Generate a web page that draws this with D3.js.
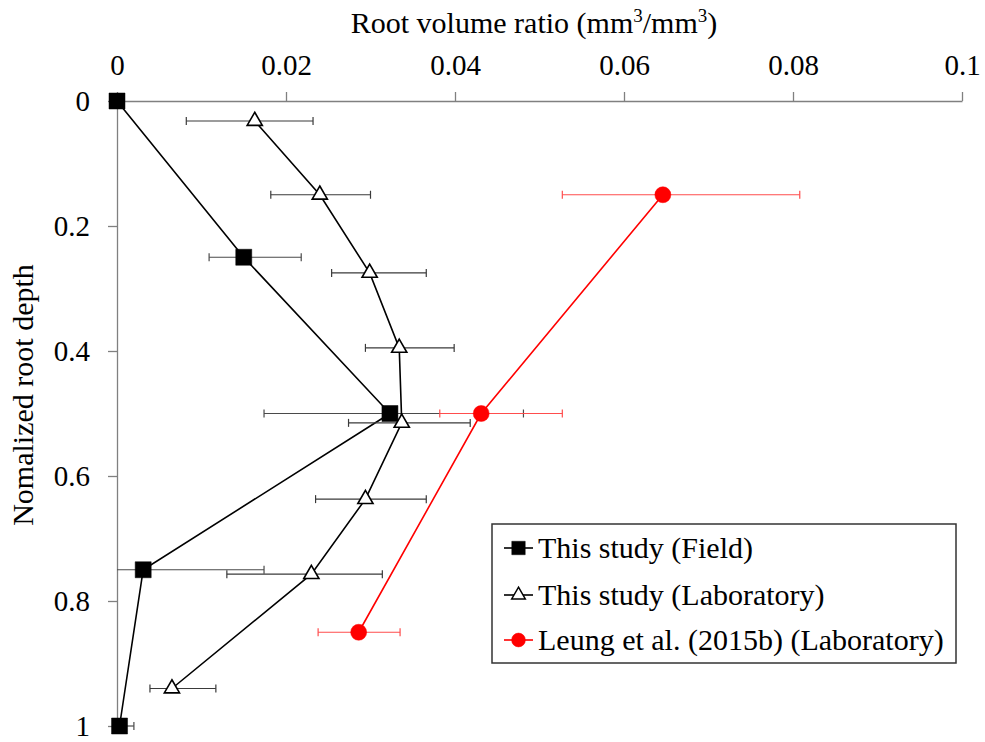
<!DOCTYPE html>
<html>
<head>
<meta charset="utf-8">
<script src="https://cdn.jsdelivr.net/npm/d3@7"></script>
<style>
  body { margin: 0; background: #fff; }
  svg text { font-family: "Liberation Serif", "Times New Roman", serif; fill: #000; }
</style>
</head>
<body>
<div id="chart"></div>
<script>
// Data

const xTicks = [0, 0.02, 0.04, 0.06, 0.08, 0.1];
const yTicks = [0, 0.2, 0.4, 0.6, 0.8, 1];

// This study (Field)
const fieldDepth = [0, 0.25, 0.5, 0.75, 1.0];
const fieldRatio = [0, 0.0150, 0.0323, 0.0031, 0.0003];
const fieldLow = [null, 0.0109, 0.0174, -0.0113, -0.0015];
const fieldHigh = [null, 0.0218, 0.0481, 0.0174, 0.0020];

// This study (Laboratory)
const labDepth = [0.032, 0.15, 0.275, 0.395, 0.515, 0.637, 0.757, 0.94];
const labRatio = [0.0163, 0.0240, 0.0299, 0.0334, 0.0337, 0.0294, 0.0230, 0.0065];
const labLow = [0.0082, 0.0182, 0.0254, 0.0294, 0.0274, 0.0235, 0.0130, 0.0039];
const labHigh = [0.0232, 0.0300, 0.0366, 0.0399, 0.0418, 0.0366, 0.0314, 0.0117];

// Leung et al. (2015b) (Laboratory)
const leungDepth = [0.15, 0.5, 0.85];
const leungRatio = [0.0646, 0.0431, 0.0286];
const leungLow = [0.0527, 0.0382, 0.0238];
const leungHigh = [0.0808, 0.0527, 0.0335];

const legendLabels = ['This study (Field)', 'This study (Laboratory)', 'Leung et al. (2015b) (Laboratory)'];

// Layout

const width = 985;
const height = 742;
const margin = {top: 101, left: 117, right: 23, bottom: 16};

const svg = d3.select('#chart')
    .append('svg')
    .attr('width', width)
    .attr('height', height);

const xScale = d3.scaleLinear()
    .domain([0, 0.1])
    .range([margin.left, width - margin.right]);
const yScale = d3.scaleLinear()
    .domain([0, 1])
    .range([margin.top, height - margin.bottom]);

const fmt = d3.format('~g');

// error bars are cut at the value axis, markers are not
svg.append('defs').append('clipPath')
    .attr('id', 'bar-clip')
    .append('rect')
    .attr('x', margin.left)
    .attr('y', margin.top - 20)
    .attr('width', xScale.range()[1] - margin.left + 20)
    .attr('height', yScale.range()[1] - margin.top + 40);

// Axes

const axisColor = '#808080';

const xAxis = svg.append('g')
    .attr('transform', `translate(0,${margin.top})`)
    .call(d3.axisTop(xScale).tickValues(xTicks).tickFormat(fmt).tickSize(9).tickSizeOuter(0).tickPadding(17));
const yAxis = svg.append('g')
    .attr('transform', `translate(${margin.left},0)`)
    .call(d3.axisLeft(yScale).tickValues(yTicks).tickFormat(fmt).tickSize(9).tickSizeOuter(0).tickPadding(18));

[xAxis, yAxis].forEach(ax => {
    ax.select('.domain').attr('stroke', axisColor).attr('stroke-width', 1.3);
    ax.selectAll('.tick line').attr('stroke', axisColor).attr('stroke-width', 1.3);
    ax.selectAll('.tick text')
        .attr('font-family', '"Liberation Serif", serif')
        .attr('font-size', 29)
        .attr('fill', '#000');
});
yAxis.selectAll('.tick text').attr('dy', '0.34em');

// Axis titles

const title = svg.append('text')
    .attr('x', 534)
    .attr('y', 33)
    .attr('text-anchor', 'middle')
    .attr('font-size', 30);
title.append('tspan').text('Root volume ratio (mm');
title.append('tspan').attr('font-size', 19).attr('dy', -11).text('3');
title.append('tspan').attr('dy', 11).text('/mm');
title.append('tspan').attr('font-size', 19).attr('dy', -11).text('3');
title.append('tspan').attr('dy', 11).text(')');

svg.append('text')
    .attr('transform', `translate(33,395) rotate(-90)`)
    .attr('text-anchor', 'middle')
    .attr('font-size', 30)
    .text('Nomalized root depth');

// Series

const series = [
    {depth: fieldDepth, ratio: fieldRatio, low: fieldLow, high: fieldHigh,
     color: '#000', barColor: '#4a4a4a', symbol: d3.symbolSquare, size: 256, fill: '#000'},
    {depth: labDepth, ratio: labRatio, low: labLow, high: labHigh,
     color: '#000', barColor: '#3a3a3a', symbol: d3.symbolTriangle, size: 100, fill: '#fff'},
    {depth: leungDepth, ratio: leungRatio, low: leungLow, high: leungHigh,
     color: '#ff0000', barColor: '#ff4d4d', symbol: d3.symbolCircle, size: 201, fill: '#ff0000'}
];

const plot = svg.append('g');

const line = d3.line()
    .x(d => xScale(d.r))
    .y(d => yScale(d.d));

series.forEach(s => {
    const pts = s.depth.map((d, i) => ({d: d, r: s.ratio[i], lo: s.low[i], hi: s.high[i]}));
    const g = plot.append('g');
    const eb = g.append('g').attr('clip-path', 'url(#bar-clip)');
    const bars = pts.filter(p => p.lo !== null);

    // error bars
    eb.selectAll('.ebar')
        .data(bars)
        .enter()
        .append('line')
        .attr('x1', p => xScale(p.lo))
        .attr('x2', p => xScale(p.hi))
        .attr('y1', p => yScale(p.d))
        .attr('y2', p => yScale(p.d))
        .attr('stroke', s.barColor)
        .attr('stroke-width', 1.2);
    ['lo', 'hi'].forEach(k => {
        eb.selectAll('.cap-' + k)
            .data(bars)
            .enter()
            .append('line')
            .attr('x1', p => xScale(p[k]))
            .attr('x2', p => xScale(p[k]))
            .attr('y1', p => yScale(p.d) - 4)
            .attr('y2', p => yScale(p.d) + 4)
            .attr('stroke', s.barColor)
            .attr('stroke-width', 1.2);
    });

    g.append('path')
        .datum(pts)
        .attr('d', line)
        .attr('fill', 'none')
        .attr('stroke', s.color)
        .attr('stroke-width', 1.6);

    g.selectAll('.marker')
        .data(pts)
        .enter()
        .append('path')
        .attr('transform', p => `translate(${xScale(p.r)},${yScale(p.d)})`)
        .attr('d', d3.symbol().type(s.symbol).size(s.size))
        .attr('fill', s.fill)
        .attr('stroke', s.color)
        .attr('stroke-width', s.fill === '#fff' ? 1.6 : 0.5);
});

// Legend

const legend = svg.append('g').attr('transform', 'translate(492,524)');
legend.append('rect')
    .attr('width', 464)
    .attr('height', 139)
    .attr('fill', '#fff')
    .attr('stroke', '#333')
    .attr('stroke-width', 1.5);

const rowY = [24, 71, 116];
const legendSize = [180, 80, 150];
series.forEach((s, i) => {
    const row = legend.append('g').attr('transform', `translate(0,${rowY[i]})`);
    row.append('line')
        .attr('x1', 12).attr('x2', 41)
        .attr('stroke', s.color)
        .attr('stroke-width', 1.6);
    row.append('path')
        .attr('transform', 'translate(26.5,0)')
        .attr('d', d3.symbol().type(s.symbol).size(legendSize[i]))
        .attr('fill', s.fill)
        .attr('stroke', s.color)
        .attr('stroke-width', s.fill === '#fff' ? 1.5 : 0.5);
    row.append('text')
        .attr('x', 46)
        .attr('y', 10)
        .attr('font-size', 30)
        .text(legendLabels[i]);
});
</script>
</body>
</html>
